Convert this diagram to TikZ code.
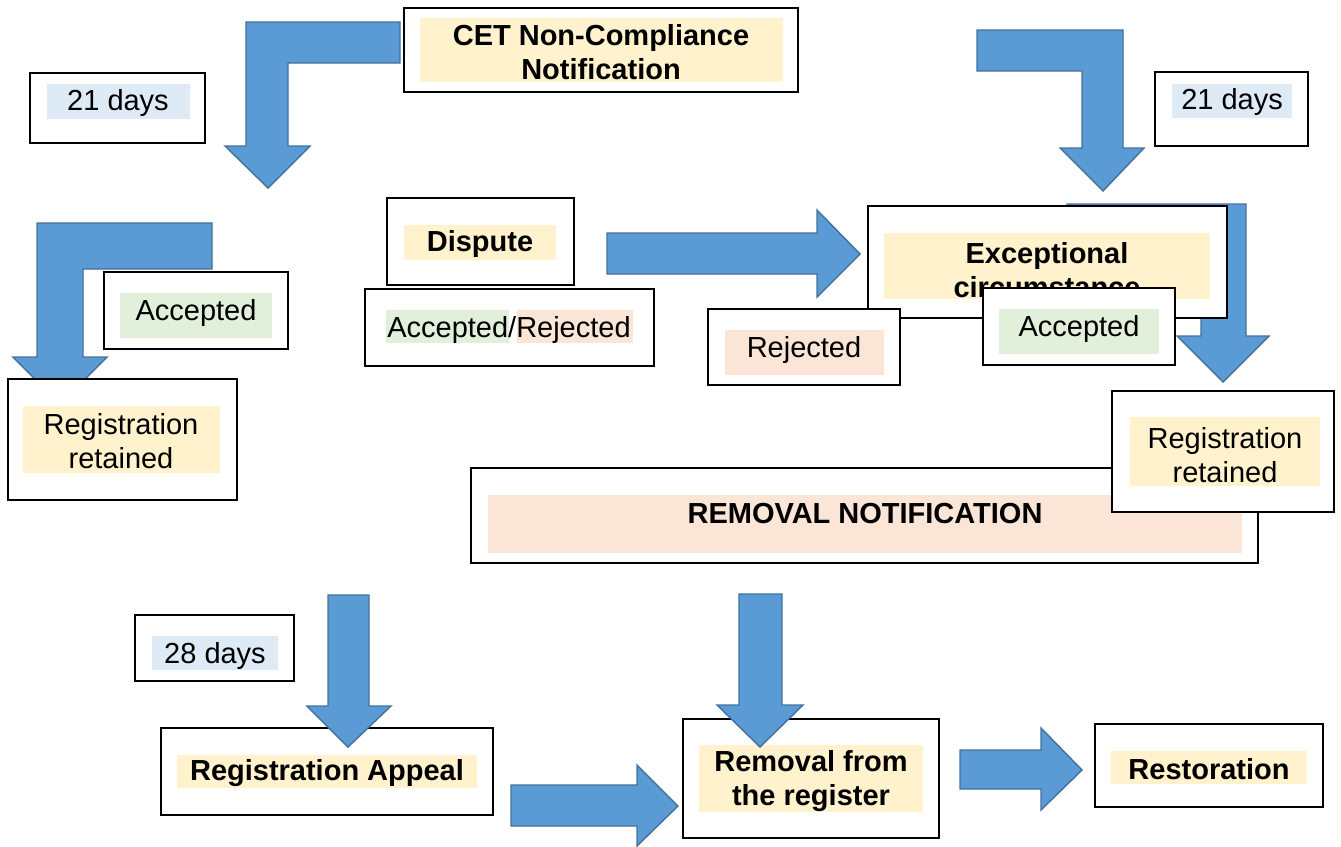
\documentclass[tikz,border=0pt]{standalone}
\usepackage{fontspec}
\setmainfont{Liberation Sans}
\usetikzlibrary{fit}
\definecolor{arrowblue}{HTML}{5B9BD5}
\definecolor{arrowedge}{HTML}{41719C}
\definecolor{hlyellow}{HTML}{FFF2CC}
\definecolor{hlgreen}{HTML}{E2EFDA}
\definecolor{hlpeach}{HTML}{FBE5D6}
\definecolor{hlblue}{HTML}{DEEBF7}
\begin{document}
\begin{tikzpicture}[x=0.02cm,y=-0.02cm,%
every node/.style={font=\fontsize{16.5}{19.5}\selectfont,align=center},
box/.style={draw,fill=white,line width=1pt,inner sep=0pt},
hl/.style={fill=#1,inner sep=0pt},
blockarrow/.style={fill=arrowblue,draw=arrowedge,line width=0.8pt,line join=miter}]
\useasboundingbox (0,0) rectangle (1341,846);
% bent and straight block arrows (behind the boxes)
\draw[blockarrow] (400,22) -- (246,22) -- (246,146) -- (225,146) -- (268,188)
  -- (310,146) -- (288,146) -- (288,63) -- (400,63) -- cycle;
\draw[blockarrow] (212,223) -- (37,223) -- (37,357) -- (13,357) -- (60,404)
  -- (107,357) -- (83,357) -- (83,269) -- (212,269) -- cycle;
\draw[blockarrow] (977,30) -- (1123,30) -- (1123,148) -- (1144,148) -- (1103,191)
  -- (1060,148) -- (1082,148) -- (1082,71) -- (977,71) -- cycle;
\draw[blockarrow] (1067,204) -- (1246,204) -- (1246,336) -- (1269,336) -- (1223,382)
  -- (1177,336) -- (1201,336) -- (1201,250) -- (1067,250) -- cycle;
\draw[blockarrow] (607,233) -- (817,233) -- (817,210) -- (860,254)
  -- (817,297) -- (817,274) -- (607,274) -- cycle;
\draw[blockarrow] (511,785) -- (637,785) -- (637,765) -- (678,806)
  -- (637,846) -- (637,826) -- (511,826) -- cycle;
\draw[blockarrow] (960,750) -- (1041,750) -- (1041,728) -- (1082,770)
  -- (1041,810) -- (1041,789) -- (960,789) -- cycle;
% boxes, each with its highlight and its text
\node[box,fit={(404,8) (798,92)}] (cetbox) {};
\node[hl=hlyellow,fit={(420,18) (783,82)}] (cethl) {};
\node[font=\fontsize{16.5}{19.5}\selectfont\bfseries] (cet) at (601,52) {CET Non-Compliance\\Notification};
\node[box,fit={(30,73) (205,143)}] (daysAbox) {};
\node[hl=hlblue,fit={(47,84) (190,119)}] (daysAhl) {};
\node (daysA) at (118,103) {21 days};
\node[box,fit={(1155,72) (1308,146)}] (daysBbox) {};
\node[hl=hlblue,fit={(1172,84) (1292,118)}] (daysBhl) {};
\node (daysB) at (1232,102) {21 days};
\node[box,fit={(104,272) (288,349)}] (accAbox) {};
\node[hl=hlgreen,fit={(120,293) (272,338)}] (accAhl) {};
\node (accA) at (196,313) {Accepted};
\node[box,fit={(8,379) (237,500)}] (retAbox) {};
\node[hl=hlyellow,fit={(23,406) (220,473)}] (retAhl) {};
\node (retA) at (121,441) {Registration\\retained};
\node[box,fit={(387,198) (574,285)}] (disputebox) {};
\node[hl=hlyellow,fit={(404,225) (556,260)}] (disputehl) {};
\node[font=\fontsize{16.5}{19.5}\selectfont\bfseries] (dispute) at (480,244) {Dispute};
\node[box,fit={(365,289) (654,366)}] (accrejbox) {};
\node[hl=hlgreen,fit={(386,310) (509,343)}] (acchl) {};
\node[hl=hlpeach,fit={(517,310) (633,343)}] (rejhl) {};
\node (accrej) at (509,330) {Accepted/Rejected};
\node[box,fit={(868,206) (1227,318)}] (excbox) {};
\node[hl=hlyellow,fit={(884,233) (1210,299)}] (exchl) {};
\node[font=\fontsize{16.5}{19.5}\selectfont\bfseries] (exc) at (1047,270) {Exceptional\\circumstance};
\node[box,fit={(708,309) (900,385)}] (rejbox) {};
\node[hl=hlpeach,fit={(725,330) (884,375)}] (rejBhl) {};
\node (rej) at (804,350) {Rejected};
\node[box,fit={(983,288) (1175,365)}] (accBbox) {};
\node[hl=hlgreen,fit={(999,309) (1159,354)}] (accBhl) {};
\node (accB) at (1079,329) {Accepted};
\node[box,fit={(471,468) (1258,563)}] (noticebox) {};
\node[hl=hlpeach,fit={(488,495) (1242,553)}] (noticehl) {};
\node[font=\fontsize{16.5}{19.5}\selectfont\bfseries] (notice) at (865,514) {REMOVAL NOTIFICATION};
\node[box,fit={(1112,391) (1334,512)}] (retBbox) {};
\node[hl=hlyellow,fit={(1130,417) (1320,486)}] (retBhl) {};
\node (retB) at (1225,455) {Registration\\retained};
\node[box,fit={(135,615) (294,681)}] (daysCbox) {};
\node[hl=hlblue,fit={(152,636) (278,670)}] (daysChl) {};
\node (daysC) at (215,656) {28 days};
\node[box,fit={(161,728) (493,815)}] (appealbox) {};
\node[hl=hlyellow,fit={(177,755) (477,788)}] (appealhl) {};
\node[font=\fontsize{16.5}{19.5}\selectfont\bfseries] (appeal) at (327,773) {Registration Appeal};
\node[box,fit={(683,719) (939,838)}] (removebox) {};
\node[hl=hlyellow,fit={(699,745) (923,812)}] (removehl) {};
\node[font=\fontsize{16.5}{19.5}\selectfont\bfseries] (remove) at (811,781) {Removal from\\the register};
\node[box,fit={(1095,724) (1323,807)}] (restorebox) {};
\node[hl=hlyellow,fit={(1111,751) (1307,784)}] (restorehl) {};
\node[font=\fontsize{16.5}{19.5}\selectfont\bfseries] (restore) at (1209,769) {Restoration};
% down arrows over the lower boxes
\draw[blockarrow] (328,595) -- (369,595) -- (369,706) -- (391,706) -- (348,747)
  -- (307,706) -- (328,706) -- cycle;
\draw[blockarrow] (739,594) -- (782,594) -- (782,705) -- (803,705) -- (760,747)
  -- (717,705) -- (739,705) -- cycle;
\end{tikzpicture}
\end{document}
